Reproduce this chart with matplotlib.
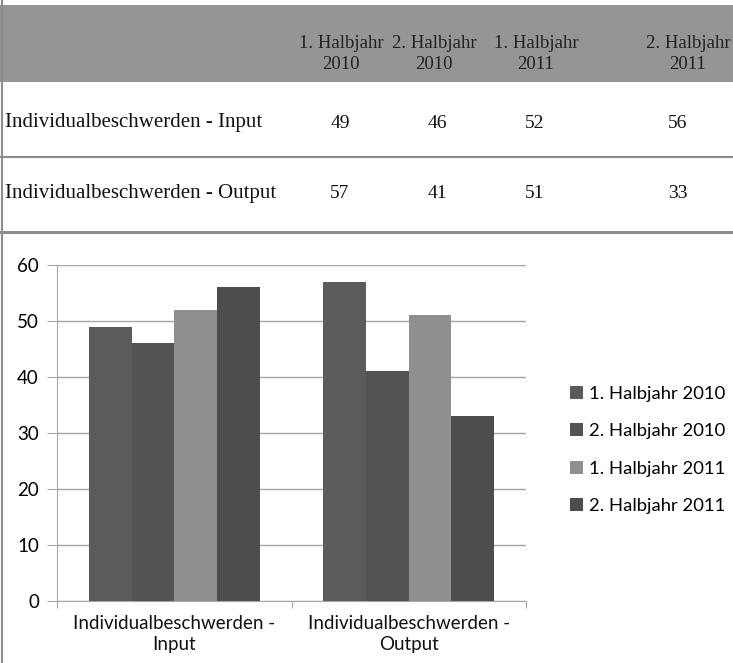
import numpy as np
import matplotlib
matplotlib.use("Agg")
import matplotlib.pyplot as plt
from matplotlib.patches import Rectangle
from matplotlib.lines import Line2D

# data
rows = ["Individualbeschwerden - Input", "Individualbeschwerden - Output"]
cats = ["Individualbeschwerden -\nInput", "Individualbeschwerden -\nOutput"]
periods = ["1. Halbjahr 2010", "2. Halbjahr 2010", "1. Halbjahr 2011", "2. Halbjahr 2011"]
header = ["1. Halbjahr\n2010", "2. Halbjahr\n2010", "1. Halbjahr\n2011", "2. Halbjahr\n2011"]
input_vals = [49, 46, 52, 56]
output_vals = [57, 41, 51, 33]
colors = ["#5b5b5b", "#535353", "#8f8f8f", "#4d4d4d"]

W, H = 733, 663
fig = plt.figure(figsize=(W / 100, H / 100), dpi=100)

def px(x):
    return x / W

def py(y):
    return 1 - y / H

# ---- table on top ----
fig.add_artist(Rectangle((px(0), py(82)), px(733), 77 / H, transform=fig.transFigure,
                         facecolor="#959595", edgecolor="none"))
for yy, lw in [(157, 1.5), (232, 2.2)]:
    fig.add_artist(Line2D([px(0), px(733)], [py(yy), py(yy)], transform=fig.transFigure,
                          color="#8c8c8c", lw=lw))
fig.add_artist(Line2D([px(1.5), px(1.5)], [py(0), py(663)], transform=fig.transFigure,
                      color="#8c8c8c", lw=1.5))

col_x = [341, 434, 536, 688]
val_x = [340, 437, 535, 678]
serif = "Liberation Serif"
for cx, h in zip(col_x, header):
    fig.text(px(cx), py(54), h, ha="center", va="center", family=serif,
             fontsize=13.5, color="#222222", linespacing=1.3)
for ry, label, vals in zip([123, 193], rows, [input_vals, output_vals]):
    fig.text(px(5), py(ry), label, ha="left", va="center", family=serif,
             fontsize=15, color="#111111")
    for cx, v in zip(val_x, vals):
        fig.text(px(cx), py(ry), str(v), ha="center", va="center", family=serif,
                 fontsize=14, color="#111111")

# ---- bar chart ----
ax = fig.add_axes([px(57), py(601), (526 - 57) / W, (601 - 265) / H])
n = len(periods)
bw = 1 / (n + 1.5)
x = np.arange(len(cats))
data = np.array([input_vals, output_vals])
for i in range(n):
    ax.bar(x + (i - (n - 1) / 2) * bw, data[:, i], bw, color=colors[i],
           label=periods[i], zorder=3)

ax.set_xlim(-0.5, 1.5)
ax.set_ylim(0, 60)
ax.set_yticks(range(0, 61, 10))
ax.yaxis.grid(True, color="#a6a6a6", lw=1, zorder=0)
for s in ["top", "right"]:
    ax.spines[s].set_visible(False)
ax.spines["left"].set_color("#a6a6a6")
ax.spines["bottom"].set_color("#a6a6a6")
ax.tick_params(axis="y", length=7, color="#a6a6a6", labelsize=13.5, pad=6)
ax.set_xticks([-0.5, 0.5, 1.5])
ax.set_xticklabels([])
ax.tick_params(axis="x", length=5, color="#a6a6a6")
for xi, c in zip(x, cats):
    ax.text(xi, -2.5, c, ha="center", va="top", fontsize=13.5, family="Lato",
            linespacing=1.3, color="#111111")
for lab in ax.get_yticklabels():
    lab.set_family("Lato")

leg = fig.legend(loc="center left", bbox_to_anchor=(px(553), py(450)), frameon=False,
                 prop={"family": "Lato", "size": 13.3}, handlelength=0.7, handleheight=0.7,
                 handletextpad=0.35, labelspacing=1.15)

fig.savefig("out.png", dpi=100)
